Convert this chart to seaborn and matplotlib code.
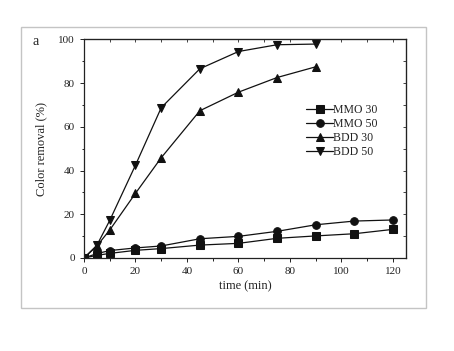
import seaborn as sns
import matplotlib.pyplot as plt
import pandas as pd
from matplotlib.patches import Rectangle
from matplotlib.ticker import MultipleLocator

# 데이터
time_mmo = [0, 5, 10, 20, 30, 45, 60, 75, 90, 105, 120]
time_bdd = [0, 5, 10, 20, 30, 45, 60, 75, 90]
mmo30 = [0, 1.2, 2.1, 3.5, 4.3, 5.9, 6.7, 9.0, 10.1, 11.1, 13.1]
mmo50 = [0, 2.0, 3.4, 4.6, 5.5, 8.8, 9.9, 12.2, 15.2, 16.9, 17.4]
bdd30 = [0, 5.5, 12.8, 29.6, 45.9, 67.4, 75.9, 82.6, 87.5]
bdd50 = [0, 5.8, 17.2, 42.5, 68.8, 86.6, 94.5, 97.6, 97.9]

series = ['MMO 30', 'MMO 50', 'BDD 30', 'BDD 50']
df = pd.concat([
    pd.DataFrame({'time': time_mmo, 'removal': mmo30, 'series': 'MMO 30'}),
    pd.DataFrame({'time': time_mmo, 'removal': mmo50, 'series': 'MMO 50'}),
    pd.DataFrame({'time': time_bdd, 'removal': bdd30, 'series': 'BDD 30'}),
    pd.DataFrame({'time': time_bdd, 'removal': bdd50, 'series': 'BDD 50'}),
])

sns.set_style('ticks')
plt.rcParams['font.family'] = ['Liberation Serif', 'DejaVu Serif']

fig = plt.figure(figsize=(4.54, 3.51), dpi=100)
# 바깥 회색 테두리
fig.patches.append(Rectangle((0.046, 0.1225), 0.892, 0.8005, transform=fig.transFigure,
                             fill=False, edgecolor='#c4c4c4', linewidth=1.0))
ax = fig.add_axes([0.185, 0.265, 0.709, 0.6225])

sns.lineplot(data=df, x='time', y='removal', hue='series', style='series',
             hue_order=series, style_order=series,
             palette=['#111111'] * 4, markers={'MMO 30': 's', 'MMO 50': 'o', 'BDD 30': '^', 'BDD 50': 'v'},
             dashes=False, markersize=5.5, markeredgecolor='#111111', linewidth=0.9, ax=ax)

ax.set_xlim(0, 125)
ax.set_ylim(0, 100)
ax.xaxis.set_major_locator(MultipleLocator(20))
ax.xaxis.set_minor_locator(MultipleLocator(10))
ax.yaxis.set_major_locator(MultipleLocator(20))
ax.yaxis.set_minor_locator(MultipleLocator(10))
ax.tick_params(which='both', labelsize=8, length=3, width=0.7, colors='#222222', labelcolor='#222222')
ax.tick_params(which='minor', length=1.8)
for s in ax.spines.values():
    s.set_linewidth(0.9)
    s.set_color('#222222')

ax2 = ax.secondary_xaxis('top')
ax2.xaxis.set_major_locator(MultipleLocator(20))
ax2.xaxis.set_minor_locator(MultipleLocator(10))
ax2.tick_params(which='both', direction='in', labeltop=False, length=2, width=0.6)
ay2 = ax.secondary_yaxis('right')
ay2.yaxis.set_major_locator(MultipleLocator(20))
ay2.yaxis.set_minor_locator(MultipleLocator(10))
ay2.tick_params(which='both', direction='in', labelright=False, length=2, width=0.6)

ax.set_xlabel('time (min)', fontsize=9, color='#222222', labelpad=3)
ax.set_ylabel('Color removal (%)', fontsize=9, color='#222222', labelpad=8)

leg = ax.legend(loc='upper right', bbox_to_anchor=(0.935, 0.735), frameon=False, fontsize=8.5,
                handlelength=2.3, handletextpad=0.0, labelspacing=0.15, borderaxespad=0.2)
for t in leg.get_texts():
    t.set_color('#222222')

fig.text(0.072, 0.872, 'a', fontsize=10, color='#222222')

fig.savefig('out.png', dpi=100, facecolor='white')
